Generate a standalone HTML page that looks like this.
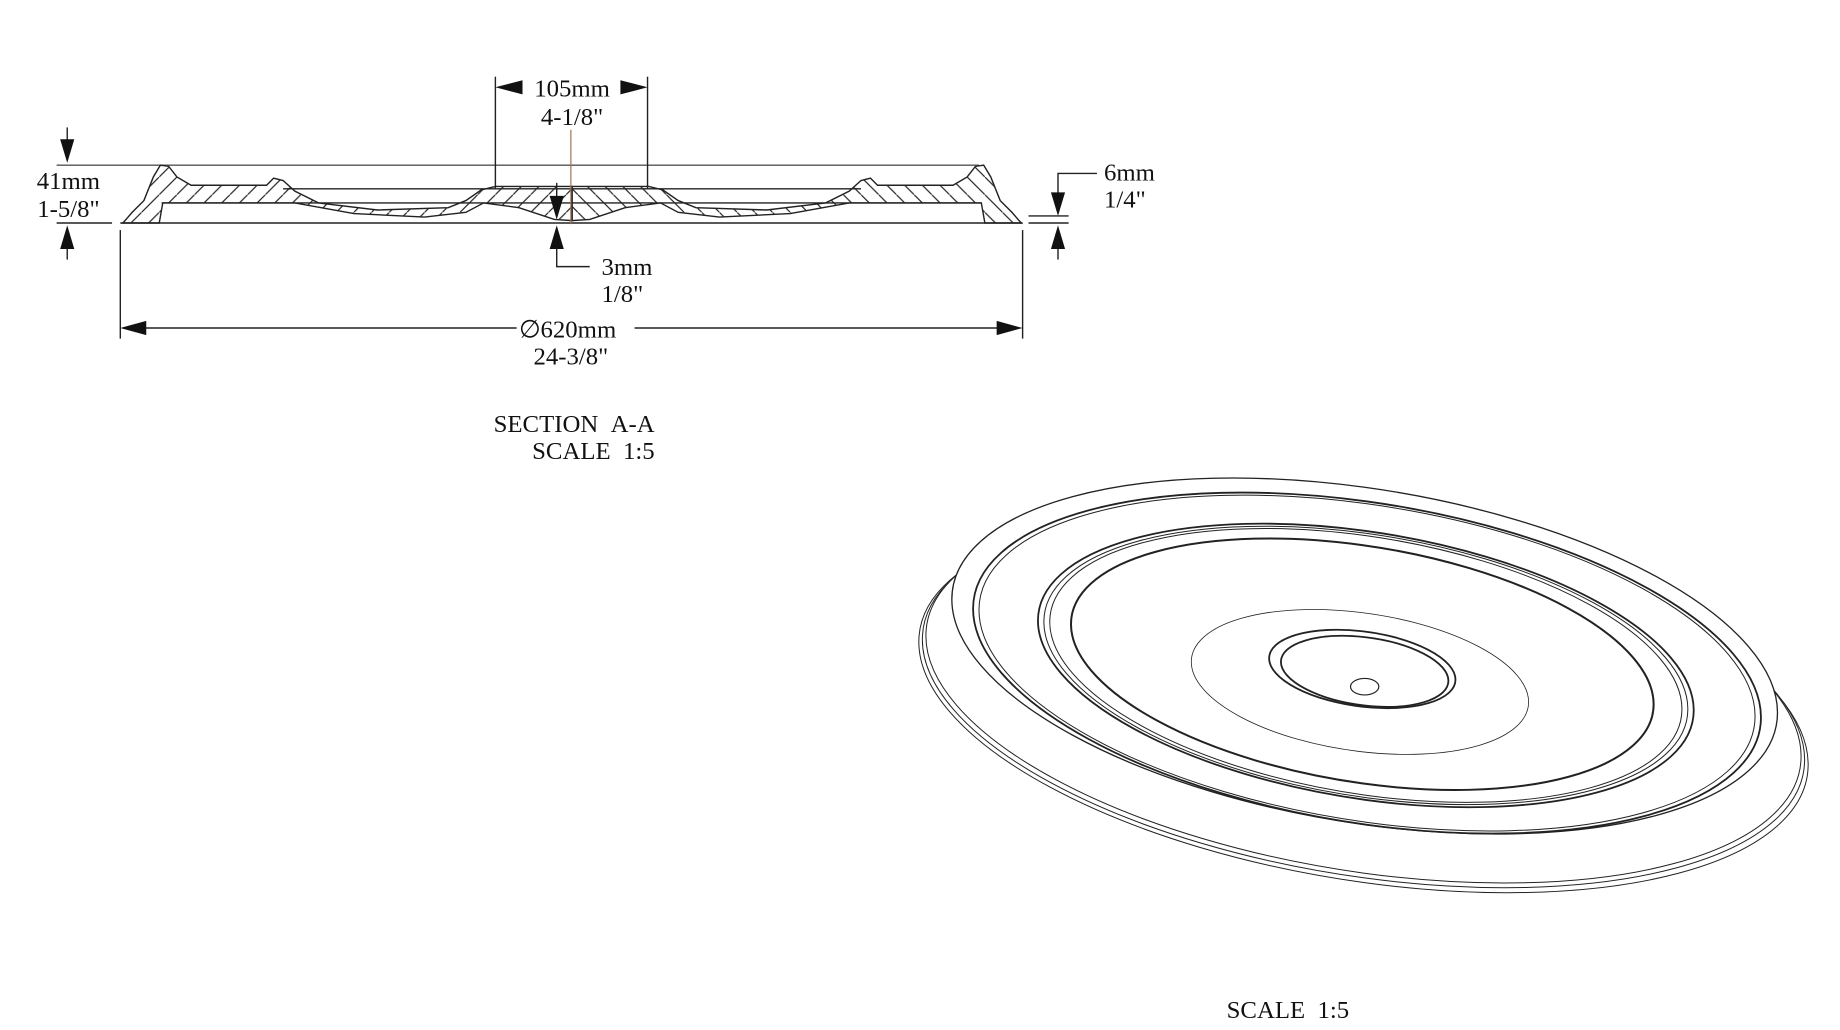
<!DOCTYPE html>
<html><head><meta charset="utf-8"><style>
html,body{margin:0;padding:0;background:#fff;}
svg{display:block;}
text{font-family:"Liberation Serif",serif;font-size:21px;fill:#111;}
circle{vector-effect:non-scaling-stroke;}
</style></head><body>
<svg width="1840" height="1030" viewBox="0 0 1560 873" preserveAspectRatio="none" xmlns="http://www.w3.org/2000/svg">
<defs>
<pattern id="h" patternUnits="userSpaceOnUse" width="15" height="15">
<line x1="-2" y1="17" x2="17" y2="-2" stroke="#222" stroke-width="1"/>
</pattern>
</defs>
<rect width="1560" height="873" fill="#fff"/>
<g stroke="#222" fill="none" stroke-width="1.2">
<line x1="48" y1="140" x2="830" y2="140" stroke="#555"/>
<line x1="48" y1="189" x2="95" y2="189"/>
<line x1="102" y1="189" x2="867" y2="189"/>
<line x1="137" y1="172" x2="832" y2="172"/>
<line x1="240" y1="160" x2="730" y2="160"/>
<line x1="872" y1="183" x2="906" y2="183"/>
<line x1="872" y1="189" x2="906" y2="189"/>
<g id="prof">
<path d="M485,158 L420,158 L408,161 L395,170 L380,176 L320,178 L270,172 L250,162 L240,153 L232,151 L226,157 L162,157 L150,150 L143,141 L136,140 L130,150 L122,170 L112,180 L106,187 L104,189 L135,189 L138,172 L250,172 L300,181 L360,184 L395,180 L410,172 L440,176 L470,186 L485,187 Z" fill="url(#h)"/>
</g>
<use href="#prof" transform="translate(970,0) scale(-1,1)"/>
<line x1="484" y1="110" x2="484" y2="190" stroke="#a07050" stroke-width="1"/>
<line x1="420" y1="65" x2="420" y2="160"/>
<line x1="549" y1="65" x2="549" y2="160"/>
<line x1="57" y1="108" x2="57" y2="125"/>
<line x1="57" y1="205" x2="57" y2="220"/>
<polyline points="930,147 897,147 897,170"/>
<line x1="897" y1="205" x2="897" y2="220"/>
<line x1="472" y1="155" x2="472" y2="170"/>
<polyline points="472,205 472,226 500,226"/>
<line x1="102" y1="195" x2="102" y2="287"/>
<line x1="867" y1="195" x2="867" y2="287"/>
<line x1="120" y1="278" x2="438" y2="278"/>
<line x1="538" y1="278" x2="850" y2="278"/>
</g>
<g fill="#111">
<polygon points="420,74 443,68 443,80"/><polygon points="549,74 526,68 526,80"/>
<polygon points="57,138 51,118 63,118"/><polygon points="57,191 51,211 63,211"/>
<polygon points="897,183 891,163 903,163"/><polygon points="897,191 891,211 903,211"/>
<polygon points="472,186 466,166 478,166"/><polygon points="472,191 466,211 478,211"/>
<polygon points="102,278 124,272 124,284"/><polygon points="867,278 845,272 845,284"/>
</g>
<text x="485" y="82" text-anchor="middle">105mm</text>
<text x="485" y="106" text-anchor="middle">4-1/8"</text>
<text x="58" y="160" text-anchor="middle">41mm</text>
<text x="58" y="184" text-anchor="middle">1-5/8"</text>
<text x="936" y="153">6mm</text>
<text x="936" y="176">1/4"</text>
<text x="510" y="233">3mm</text>
<text x="510" y="256">1/8"</text>
<text x="440" y="286">∅620mm</text>
<text x="484" y="309" text-anchor="middle">24-3/8"</text>
<text x="555" y="366" text-anchor="end">SECTION&#160;&#160;A-A</text>
<text x="555" y="389" text-anchor="end">SCALE&#160;&#160;1:5</text>
<text x="1040" y="863">SCALE&#160;&#160;1:5</text>
<g stroke="#222" fill="#fff" stroke-width="1">
<circle r="1" transform="matrix(377,52,0,152,1156,596)"/>
<circle r="1" transform="matrix(374,51,0,151,1156,593)"/>
<circle r="1" transform="matrix(371,51,0,150,1156,590)"/>
<circle r="1" transform="matrix(350,48,0,143,1157,556)" stroke-width="1.3"/>
<g fill="none">
<circle r="1" transform="matrix(334,46,0,137,1159,562)" stroke-width="1.8"/>
<circle r="1" transform="matrix(329,45,0,135,1159,562)"/>
<circle r="1" transform="matrix(278,38,0,114,1158,564)" stroke-width="1.8"/>
<circle r="1" transform="matrix(273,37,0,112,1158,564)"/>
<circle r="1" transform="matrix(268,37,0,110,1158,564)"/>
<circle r="1" transform="matrix(247,34,0,101,1155,563)" stroke-width="2"/>
<circle r="1" transform="matrix(143,17,0,59,1153,578)" stroke-width="0.8"/>
<circle r="1" transform="matrix(79,9,0,32,1155,567)" stroke-width="1.8"/>
<circle r="1" transform="matrix(71,8,0,29,1157,569)" stroke-width="1.8"/>
<ellipse cx="1157" cy="582" rx="12" ry="7"/>
</g>
</g>
</svg>
</body></html>
